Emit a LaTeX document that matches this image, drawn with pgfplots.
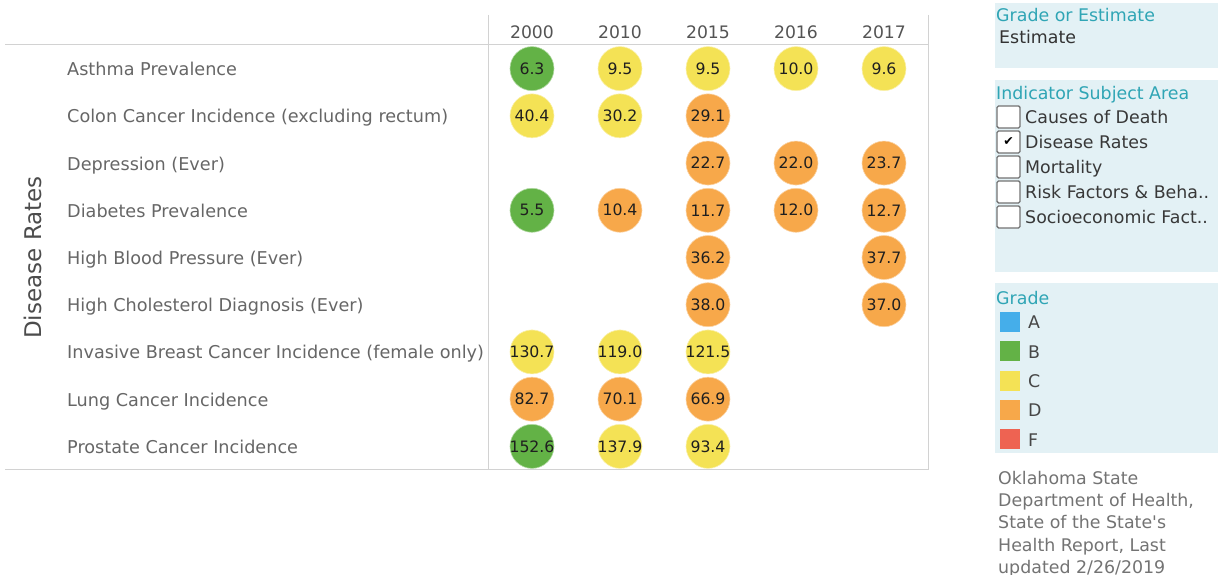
\documentclass[border=0pt]{standalone}
\usepackage{fontspec}
\setmainfont{DejaVu Sans}
\newfontfamily\notefont{DejaVu Sans}
\usepackage{pgfplots}
\usepackage{pgfplotstable}
\pgfplotsset{compat=1.18}
\definecolor{cA}{HTML}{45AEEA}
\definecolor{cB}{HTML}{63B246}
\definecolor{cC}{HTML}{F4E255}
\definecolor{cD}{HTML}{F7A84A}
\definecolor{cF}{HTML}{EE6352}
\definecolor{panel}{HTML}{E3F1F5}
\definecolor{teal}{HTML}{2FA5B5}
\definecolor{rowgray}{HTML}{666666}
\definecolor{framegray}{HTML}{D2D2D2}
\newcommand{\fs}[1]{\fontsize{#1bp}{#1bp}\selectfont}

% grade B
\pgfplotstableread{
x y v
0 8 6.3
0 5 5.5
0 0 152.6
}\gradeB
% grade C
\pgfplotstableread{
x y v
1 8 9.5
2 8 9.5
3 8 10.0
4 8 9.6
0 7 40.4
1 7 30.2
0 2 130.7
1 2 119.0
2 2 121.5
1 0 137.9
2 0 93.4
}\gradeC
% grade D
\pgfplotstableread{
x y v
2 7 29.1
2 6 22.7
3 6 22.0
4 6 23.7
1 5 10.4
2 5 11.7
3 5 12.0
4 5 12.7
2 4 36.2
4 4 37.7
2 3 38.0
4 3 37.0
0 1 82.7
1 1 70.1
2 1 66.9
}\gradeD

\begin{document}
\begin{tikzpicture}
\path[use as bounding box] (0,0) rectangle (1225bp,575bp);
\begin{axis}[
  at={(488bp,105bp)}, anchor=south west,
  width=440bp, height=425bp, scale only axis,
  xmin=-0.5, xmax=4.5, ymin=-0.5, ymax=8.5,
  axis line style={draw=none},
  tick style={draw=none}, major tick length=0pt,
  xtick={0,1,2,3,4},
  xticklabels={2000,2010,2015,2016,2017},
  xticklabel pos=upper,
  xticklabel style={anchor=base, inner sep=0pt, yshift=6.8bp, font=\fs{17.2}, text=black!67},
  ytick={0,1,2,3,4,5,6,7,8},
  yticklabels={Prostate Cancer Incidence, Lung Cancer Incidence, Invasive Breast Cancer Incidence (female only), High Cholesterol Diagnosis (Ever), High Blood Pressure (Ever), Diabetes Prevalence, Depression (Ever), Colon Cancer Incidence (excluding rectum), Asthma Prevalence},
  yticklabel style={anchor=base west, inner sep=0pt, xshift=-421bp, yshift=-7bp, font=\fs{17.65}, text=rowgray},
  ylabel={Disease Rates},
  ylabel style={at={(axis description cs:-1.034,0.5)}, anchor=center, font=\fs{23}, text=black!70},
  clip=false,
  /pgf/number format/.cd, fixed, fixed zerofill, precision=1, assume math mode=true,
  /pgfplots/.cd,
  every node near coord/.append style={anchor=center, inner sep=0pt, font=\fs{15.7}, text=black!88},
]
\addplot[only marks, mark=*, mark size=22bp, mark options={fill=cB, draw=cB!50!white, line width=0.6bp},
  nodes near coords, point meta=explicit] table[x=x, y=y, meta=v] {\gradeB};
\addplot[only marks, mark=*, mark size=22bp, mark options={fill=cC, draw=cC!50!white, line width=0.6bp},
  nodes near coords, point meta=explicit] table[x=x, y=y, meta=v] {\gradeC};
\addplot[only marks, mark=*, mark size=22bp, mark options={fill=cD, draw=cD!50!white, line width=0.6bp},
  nodes near coords, point meta=explicit] table[x=x, y=y, meta=v] {\gradeD};
\end{axis}
% table frame
\draw[framegray, line width=1bp] (488bp,560bp) -- (488bp,105bp);
\draw[framegray, line width=1bp] (928bp,560bp) -- (928bp,105bp);
\draw[framegray, line width=1bp] (5bp,530bp) -- (928bp,530bp);
\draw[framegray, line width=1bp] (5bp,105bp) -- (928bp,105bp);

% panel 1
\fill[panel] (995bp,507bp) rectangle (1218bp,572bp);
\node[anchor=base west, inner sep=0pt, text=teal, font=\fs{17.4}] at (996bp,553bp) {Grade or Estimate};
\node[anchor=base west, inner sep=0pt, text=black!80, font=\fs{17.4}] at (999bp,531bp) {Estimate};
% panel 2
\fill[panel] (995bp,303bp) rectangle (1218bp,495bp);
\node[anchor=base west, inner sep=0pt, text=teal, font=\fs{17.4}] at (996bp,475bp) {Indicator Subject Area};
\foreach \yy/\lab in {458/Causes of Death, 433/Disease Rates, 408/Mortality, 383/Risk Factors \& Beha.., 358/Socioeconomic Fact..}{
  \draw[black!55, line width=1.4bp, rounded corners=1.5bp, fill=white] (997bp,\yy bp-11bp) rectangle (1020bp,\yy bp+11bp);
  \node[anchor=base west, inner sep=0pt, text=black!78, font=\fs{17.4}] at (1025bp,\yy bp-7bp) {\lab};
}
\node[inner sep=0pt, font=\fs{12.5}] at (1008.5bp,433bp) {✔};
% panel 3
\fill[panel] (995bp,122bp) rectangle (1218bp,292bp);
\node[anchor=base west, inner sep=0pt, text=teal, font=\fs{17.4}] at (996bp,270bp) {Grade};
\foreach \yy/\col/\lab in {253/cA/A, 223.5/cB/B, 194/cC/C, 165/cD/D, 135.5/cF/F}{
  \fill[\col] (1000bp,\yy bp-10bp) rectangle (1020bp,\yy bp+10bp);
  \node[anchor=base west, inner sep=0pt, text=black!72, font=\fs{17.4}] at (1028bp,\yy bp-7bp) {\lab};
}
% note
\foreach \yy/\lab in {97/{Oklahoma State}, 75/{Department of Health,}, 53/{State of the State's}, 31/{Health Report, Last}, 9/{updated 2/26/2019}}{
  \node[anchor=base west, inner sep=0pt, text=black!55, font=\notefont\fs{17.4}] at (998bp,\yy bp-7bp) {\lab};
}
\end{tikzpicture}
\end{document}
